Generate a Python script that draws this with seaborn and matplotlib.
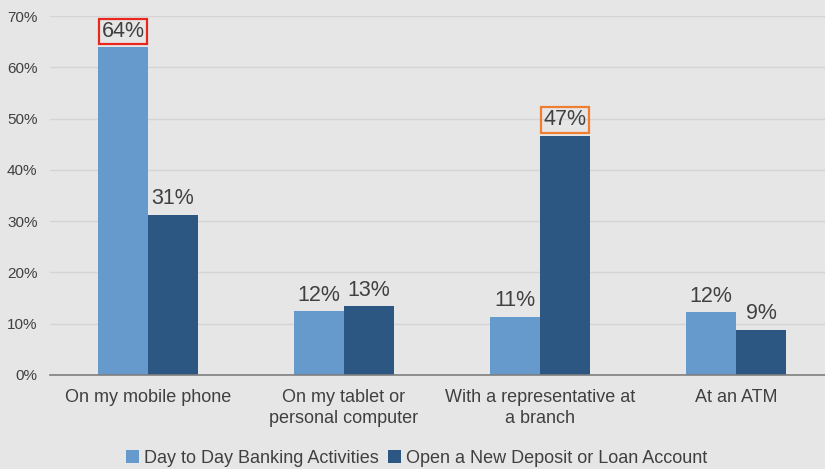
import matplotlib
matplotlib.use("Agg")
import matplotlib.pyplot as plt
import seaborn as sns
import pandas as pd

categories = ["On my mobile phone", "On my tablet or\npersonal computer",
              "With a representative at\na branch", "At an ATM"]
series_names = ["Day to Day Banking Activities", "Open a New Deposit or Loan Account"]
day_to_day = [63.9, 12.4, 11.3, 12.2]
new_account = [31.2, 13.4, 46.6, 8.8]
yticks = [0, 10, 20, 30, 40, 50, 60, 70]

df = pd.DataFrame({
    "category": categories * 2,
    "series": [series_names[0]] * 4 + [series_names[1]] * 4,
    "value": day_to_day + new_account,
})

sns.set_theme(style="white")
plt.rcParams["font.family"] = ["Liberation Sans", "DejaVu Sans"]

bg = "#e6e6e6"
text_c = "#404040"
fig = plt.figure(figsize=(8.25, 4.69), dpi=100, facecolor=bg)
ax = fig.add_axes([50 / 825, 1 - 375 / 469, 784 / 825, 359 / 469])
ax.set_facecolor(bg)

sns.barplot(data=df, x="category", y="value", hue="series", order=categories,
            hue_order=series_names, palette=["#6699CC", "#2B5782"],
            width=0.51, gap=0, ax=ax, legend=True, saturation=1, linewidth=0)

ax.set_xlim(-0.5, 3.5)
ax.set_ylim(0, 70)
ax.set_yticks(yticks)
ax.set_yticklabels([f"{v}%" for v in yticks], fontsize=11, color=text_c)
ax.tick_params(axis="both", length=0)
ax.tick_params(axis="y", pad=9)
ax.tick_params(axis="x", pad=10)
ax.set_xticks(range(len(categories)))
ax.set_xticklabels(categories, fontsize=13, color=text_c, linespacing=1.3)
ax.set_xlabel("")
ax.set_ylabel("")
ax.grid(axis="y", color="#d4d4d4", linewidth=1)
ax.set_axisbelow(True)
for s in ["top", "right", "left"]:
    ax.spines[s].set_visible(False)
ax.spines["bottom"].set_color("#7f7f7f")
ax.spines["bottom"].set_linewidth(1.2)

box_colors = {(0, 0): "#e8281e", (1, 2): "#f07d30"}
for si, cont in enumerate(ax.containers):
    vals = day_to_day if si == 0 else new_account
    texts = ax.bar_label(cont, labels=[f"{v:.0f}%" for v in vals], padding=4,
                         fontsize=15.5, color=text_c)
    for ci, t in enumerate(texts):
        if (si, ci) in box_colors:
            t.set_bbox(dict(facecolor="none", edgecolor=box_colors[(si, ci)],
                            linewidth=1.6, boxstyle="square,pad=0.1"))

handles, labels = ax.get_legend_handles_labels()
ax.get_legend().remove()
fig.legend(handles, labels, loc="lower center", bbox_to_anchor=(417 / 825, -0.03),
           ncol=2, frameon=False, fontsize=13, handlelength=0.7, handleheight=0.7,
           handletextpad=0.3, columnspacing=0.5, labelcolor=text_c)

fig.savefig("out.png", dpi=100, facecolor=bg)
